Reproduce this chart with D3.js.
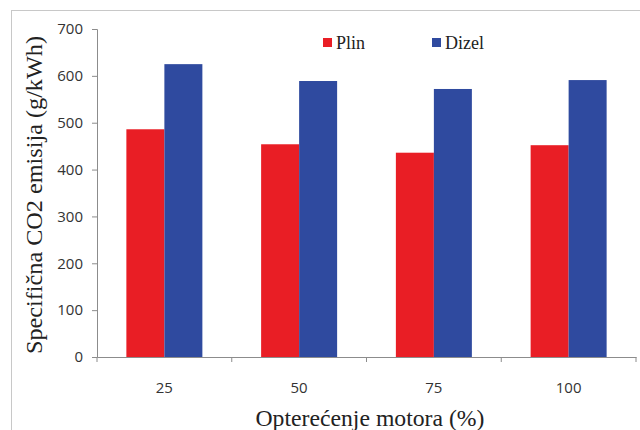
<!DOCTYPE html>
<html lang="hr">
<head>
<meta charset="UTF-8">
<title>Specifična CO2 emisija</title>
<script src="https://d3js.org/d3.v7.min.js"></script>
<style>
  body { margin: 0; background: #fff; }
  svg { display: block; }
</style>
</head>
<body>
<svg width="640" height="430"></svg>
<script>
const categories = ["25", "50", "75", "100"];
const seriesNames = ["Plin", "Dizel"];
const plin = [486, 454, 436, 452];
const dizel = [625, 589, 572, 591];
const yTicks = [0, 100, 200, 300, 400, 500, 600, 700];
const colors = ["#e91e25", "#2f4a9f"];

const svg = d3.select("svg");
const margin = { top: 29, right: 4, bottom: 73, left: 97 };
const width = 640, height = 430;
const innerW = width - margin.left - margin.right;
const innerH = height - margin.top - margin.bottom;

// frame around the chart area
svg.append("rect")
  .attr("x", 11.5).attr("y", 10.5)
  .attr("width", 640).attr("height", 430)
  .attr("fill", "none").attr("stroke", "#c8c8c8").attr("stroke-width", 1);

const g = svg.append("g").attr("transform", `translate(${margin.left},${margin.top})`);

const x = d3.scaleBand().domain(categories).range([0, innerW]).paddingInner(0).paddingOuter(0);
const xInner = d3.scaleBand().domain(seriesNames).range([x.bandwidth() / 2 - 38, x.bandwidth() / 2 + 38]);
const y = d3.scaleLinear().domain([0, 700]).range([innerH, 0]);

const rows = categories.map((c, i) => ({ cat: c, values: [plin[i], dizel[i]] }));

g.selectAll("g.grp")
  .data(rows)
  .enter().append("g")
  .attr("class", "grp")
  .attr("transform", d => `translate(${x(d.cat)},0)`)
  .selectAll("rect")
  .data(d => d.values.map((v, j) => ({ name: seriesNames[j], v, j })))
  .enter().append("rect")
  .attr("x", d => xInner(d.name))
  .attr("width", xInner.bandwidth())
  .attr("y", d => y(d.v))
  .attr("height", d => innerH - y(d.v))
  .attr("fill", d => colors[d.j]);

// y axis
const yAxis = g.append("g")
  .call(d3.axisLeft(y).tickValues(yTicks).tickSize(5).tickPadding(9));
yAxis.select(".domain").attr("stroke", "#8c8c8c");
yAxis.selectAll(".tick line").attr("stroke", "#8c8c8c");
yAxis.selectAll("text")
  .attr("font-family", "'Open Sans', 'DejaVu Sans', sans-serif")
  .attr("font-size", 15).attr("fill", "#333");

// x axis with ticks at the band boundaries
const xAxis = g.append("g")
  .attr("transform", `translate(0,${innerH})`)
  .call(d3.axisBottom(x).tickSize(0).tickPadding(25));
xAxis.select(".domain").attr("stroke", "#8c8c8c");
xAxis.selectAll("text")
  .attr("font-family", "'Open Sans', 'DejaVu Sans', sans-serif")
  .attr("font-size", 15).attr("fill", "#333");
xAxis.selectAll("line.sep")
  .data(d3.range(categories.length + 1))
  .enter().append("line")
  .attr("class", "sep")
  .attr("x1", i => i * x.step()).attr("x2", i => i * x.step())
  .attr("y1", 0).attr("y2", 5)
  .attr("stroke", "#8c8c8c");

// axis titles
svg.append("text")
  .attr("x", 370)
  .attr("y", 426)
  .attr("text-anchor", "middle")
  .attr("font-family", "'Liberation Serif', 'Times New Roman', serif")
  .attr("font-size", 24).attr("fill", "#222")
  .attr("textLength", 229).attr("lengthAdjust", "spacingAndGlyphs")
  .text("Opterećenje motora (%)");

svg.append("text")
  .attr("transform", "translate(42,195) rotate(-90)")
  .attr("text-anchor", "middle")
  .attr("font-family", "'Liberation Serif', 'Times New Roman', serif")
  .attr("font-size", 24).attr("fill", "#222")
  .attr("textLength", 318).attr("lengthAdjust", "spacingAndGlyphs")
  .text("Specifična CO2 emisija (g/kWh)");

// legend
const legend = svg.append("g").attr("transform", "translate(323,38)");
const legendX = [0, 109];
seriesNames.forEach((name, i) => {
  const item = legend.append("g").attr("transform", `translate(${legendX[i]},0)`);
  item.append("rect").attr("width", 9).attr("height", 9).attr("fill", colors[i]);
  item.append("text")
    .attr("x", 13).attr("y", 11)
    .attr("font-family", "'Liberation Serif', 'Times New Roman', serif")
    .attr("font-size", 18).attr("fill", "#222")
    .text(name);
});
</script>
</body>
</html>
